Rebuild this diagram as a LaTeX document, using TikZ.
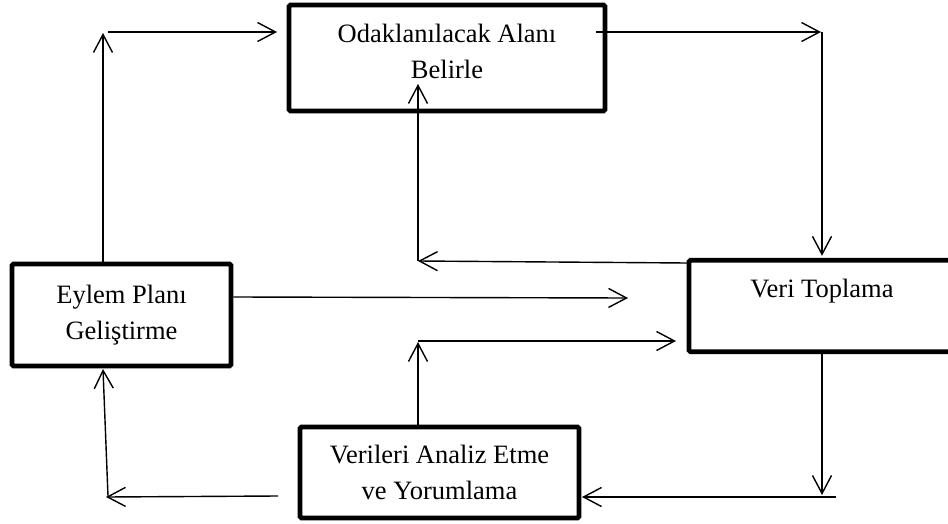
\documentclass[tikz,border=0pt]{standalone}
\usepackage{fontspec}
\setmainfont{Liberation Serif}
\usetikzlibrary{arrows.meta}
\begin{document}
\begin{tikzpicture}[x=0.5pt,y=-0.5pt,
 box/.style={draw,line width=2.4pt,rounded corners=0.8pt,inner sep=0pt,align=center,font=\fontsize{13.25}{18}\selectfont},
 arr/.style={line width=0.7pt,-{Straight Barb[length=9pt,width=9.5pt]}}]
 \useasboundingbox (0,0) rectangle (948,524);
 \node[box,minimum width=158pt,minimum height=53pt](odak) at (447,58) {Odaklanılacak Alanı\\Belirle\rule[-7pt]{0pt}{7pt}};
 \node[box,minimum width=109.5pt,minimum height=51pt](eylem) at (121.5,315) {Eylem Planı\\Geliştirme};
 \node[box,minimum width=133pt,minimum height=45.75pt](veri) at (822,306) {Veri Toplama\\\mbox{}};
 \node[box,minimum width=139.5pt,minimum height=45.5pt](analiz) at (439.5,472.5) {Verileri Analiz Etme\\ve Yorumlama};
 \coordinate (l1) at (103,33);
 \coordinate (l2) at (108,32);
 \coordinate (l3) at (277,32);
 \coordinate (r1) at (596,32);
 \coordinate (r2) at (821,32);
 \coordinate (r3) at (822,32);
 \coordinate (m1) at (687,263);
 \coordinate (m2) at (418,261);
 \coordinate (m3) at (418,84);
 \coordinate (e1) at (628,298);
 \coordinate (v1) at (418,342);
 \coordinate (v2) at (418,341);
 \coordinate (v3) at (676,341);
 \coordinate (d1) at (822,495);
 \coordinate (d2) at (836,497);
 \coordinate (d3) at (582,497);
 \coordinate (g1) at (278,496);
 \coordinate (g2) at (106,497);
 \coordinate (g3) at (108,496);
 \coordinate (g4) at (103,369);
 \draw[arr](l1 |- eylem.north)--(l1);
 \draw[arr](l2)--(l3);
 \draw[arr](r1)--(r2);
 \draw[arr,shorten >=1pt](r3)--(veri.north);
 \draw[arr](m1)--(m2);
 \draw[arr](m2)--(m3);
 \draw[arr]([yshift=9pt]eylem.east)--(e1);
 \draw[arr](v1 |- analiz.north)--(v1);
 \draw[arr](v2)--(v3);
 \draw[arr](veri.south)--(d1);
 \draw[arr](d2)--(d3);
 \draw[arr](g1)--(g2);
 \draw[arr](g3)--(g4);
\end{tikzpicture}
\end{document}
